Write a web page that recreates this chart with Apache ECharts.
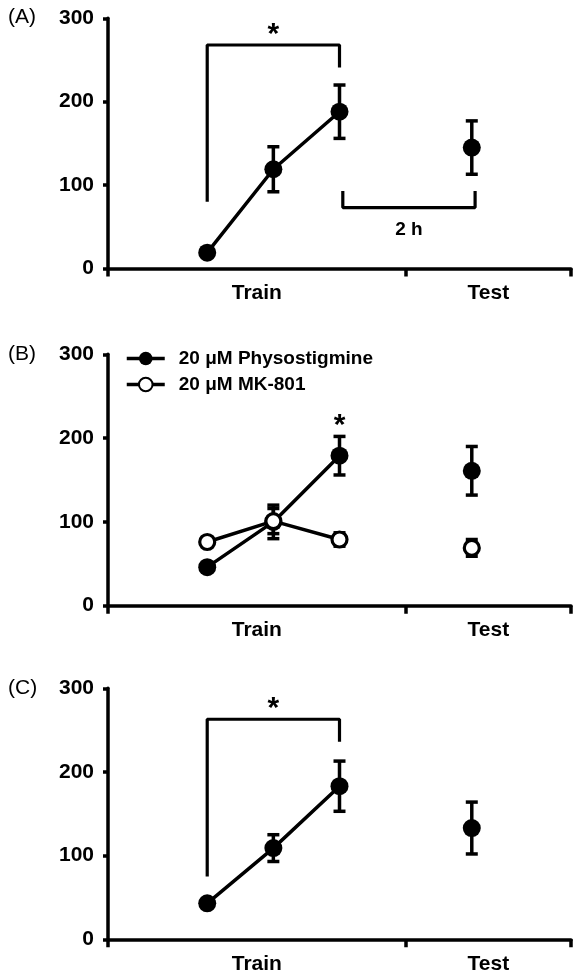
<!DOCTYPE html>
<html>
<head>
<meta charset="utf-8">
<script src="https://cdn.jsdelivr.net/npm/echarts@6/dist/echarts.min.js"></script>
<style>html,body{margin:0;padding:0;background:#fff;}#c{width:573px;height:975px;}</style>
</head>
<body>
<div id="c"></div>
<script>
// ---- data ----
const trainX = [1.5, 2.5, 3.5];
const testX = 5.5;
const categoryLabels = ['Train', 'Test'];
const yTicks = [0, 100, 200, 300];

const aTrain = [19, 119, 188];
const aTrainErr = [0, 27, 32];
const aTest = 145;
const aTestErr = 32;

const bPhysoTrain = [46, 100, 179];
const bPhysoTrainErr = [0, 20, 23];
const bPhysoTest = 161;
const bPhysoTestErr = 29;

const bMkTrain = [76, 101, 79];
const bMkTrainErr = [0, 15, 8];
const bMkTest = 69;
const bMkTestErr = 10;

const cTrain = [43, 109, 183];
const cTrainErr = [0, 16, 30];
const cTest = 133;
const cTestErr = 31;

const seriesNames = ['20 μM Physostigmine', '20 μM MK-801'];

// annotations (data coordinates)
const bracketA = [[1.5, 80], [1.5, 268], [3.5, 268], [3.5, 241]];
const bracket2h = [[3.55, 93], [3.55, 73], [5.55, 73], [5.55, 93]];
const bracketC = [[1.5, 75], [1.5, 263], [3.5, 263], [3.5, 236]];
const textsA = [[2.5, 289, '*'], [4.55, 47, '2 h']];
const textsB = [[3.5, 223, '*']];
const textsC = [[2.5, 284, '*']];

// ---- chart ----
const FONT = '"Liberation Sans", Arial, sans-serif';
const chart = echarts.init(document.getElementById('c'), null, {renderer: 'canvas'});

const grids = [
  {left: 108, width: 463, top: 18.3, height: 250.2},
  {left: 108, width: 463, top: 354.3, height: 251.4},
  {left: 108, width: 463, top: 688.3, height: 251}
];

function xAxisDef(i) {
  return {
    type: 'value', gridIndex: i, min: 0, max: 7,
    axisLine: {show: true, lineStyle: {color: '#000', width: 3.5}},
    axisTick: {show: true, customValues: [0, 4.5, 7], length: 8, lineStyle: {color: '#000', width: 3.5}},
    axisLabel: {
      show: true, customValues: [2.25, 5.75],
      formatter: v => (v < 4.5 ? categoryLabels[0] : categoryLabels[1]),
      fontFamily: FONT, fontSize: 21, fontWeight: 'bold', color: '#000', margin: 14
    },
    splitLine: {show: false}
  };
}
function yAxisDef(i) {
  return {
    type: 'value', gridIndex: i, min: yTicks[0], max: yTicks[yTicks.length - 1], interval: 100,
    axisLine: {show: true, lineStyle: {color: '#000', width: 3.5}},
    axisTick: {show: true, length: 5, lineStyle: {color: '#000', width: 3.5}},
    axisLabel: {fontFamily: FONT, fontSize: 21, fontWeight: 'bold', color: '#000', margin: 14},
    splitLine: {show: false}
  };
}

function errRender(params, api) {
  const x = api.value(0), lo = api.value(1), hi = api.value(2);
  const pLo = api.coord([x, lo]);
  const pHi = api.coord([x, hi]);
  const w = 6;
  const st = {stroke: '#000', lineWidth: 3.5};
  return {type: 'group', children: [
    {type: 'line', shape: {x1: pLo[0], y1: pLo[1], x2: pHi[0], y2: pHi[1]}, style: st},
    {type: 'line', shape: {x1: pHi[0] - w, y1: pHi[1], x2: pHi[0] + w, y2: pHi[1]}, style: st},
    {type: 'line', shape: {x1: pLo[0] - w, y1: pLo[1], x2: pLo[0] + w, y2: pLo[1]}, style: st}
  ]};
}
function errSeries(i, vals, errs, tv, te) {
  const data = [];
  trainX.forEach((x, j) => { if (errs[j] > 0) data.push([x, vals[j] - errs[j], vals[j] + errs[j]]); });
  data.push([testX, tv - te, tv + te]);
  return {type: 'custom', xAxisIndex: i, yAxisIndex: i, renderItem: errRender, data: data,
    encode: {x: 0, y: [1, 2]}, z: 2, silent: true};
}
function filledLine(i, name, vals, tv) {
  return [
    {type: 'line', name: name, xAxisIndex: i, yAxisIndex: i, data: trainX.map((x, j) => [x, vals[j]]),
      symbol: 'circle', symbolSize: 18, lineStyle: {color: '#000', width: 3.5},
      itemStyle: {color: '#000'}, z: 3},
    {type: 'line', name: name, xAxisIndex: i, yAxisIndex: i, data: [[testX, tv]],
      symbol: 'circle', symbolSize: 18, lineStyle: {color: '#000', width: 3.5},
      itemStyle: {color: '#000'}, z: 3}
  ];
}
function openLine(i, name, vals, tv) {
  const st = {color: '#fff', borderColor: '#000', borderWidth: 3.2};
  return [
    {type: 'line', name: name, xAxisIndex: i, yAxisIndex: i, data: trainX.map((x, j) => [x, vals[j]]),
      symbol: 'circle', symbolSize: 15, lineStyle: {color: '#000', width: 3.5},
      itemStyle: st, z: 4},
    {type: 'line', name: name, xAxisIndex: i, yAxisIndex: i, data: [[testX, tv]],
      symbol: 'circle', symbolSize: 15, lineStyle: {color: '#000', width: 3.5},
      itemStyle: st, z: 4}
  ];
}
function bracketSeries(i, pts) {
  return {type: 'line', xAxisIndex: i, yAxisIndex: i, data: pts, symbol: 'none',
    lineStyle: {color: '#000', width: 3.2}, z: 1, silent: true};
}
function textSeries(i, items) {
  return {type: 'custom', xAxisIndex: i, yAxisIndex: i, silent: true, z: 5,
    data: items.map(t => [t[0], t[1]]),
    renderItem: function (params, api) {
      const p = api.coord([api.value(0), api.value(1)]);
      const t = items[params.dataIndex][2];
      const isStar = t === '*';
      return {type: 'text', x: p[0], y: p[1] + (isStar ? 7 : 0),
        style: {text: t, fill: '#000', align: 'center', verticalAlign: 'middle',
          font: 'bold ' + (isStar ? 30 : 19) + 'px ' + FONT}};
    }};
}

const series = [].concat(
  errSeries(0, aTrain, aTrainErr, aTest, aTestErr),
  filledLine(0, 'A', aTrain, aTest),
  bracketSeries(0, bracketA),
  bracketSeries(0, bracket2h),
  textSeries(0, textsA),

  errSeries(1, bPhysoTrain, bPhysoTrainErr, bPhysoTest, bPhysoTestErr),
  errSeries(1, bMkTrain, bMkTrainErr, bMkTest, bMkTestErr),
  filledLine(1, seriesNames[0], bPhysoTrain, bPhysoTest),
  openLine(1, seriesNames[1], bMkTrain, bMkTest),
  textSeries(1, textsB),

  errSeries(2, cTrain, cTrainErr, cTest, cTestErr),
  filledLine(2, 'C', cTrain, cTest),
  bracketSeries(2, bracketC),
  textSeries(2, textsC)
);

const option = {
  animation: false,
  backgroundColor: '#fff',
  grid: grids,
  xAxis: [xAxisDef(0), xAxisDef(1), xAxisDef(2)],
  yAxis: [yAxisDef(0), yAxisDef(1), yAxisDef(2)],
  legend: {
    data: seriesNames, orient: 'vertical', left: 125, top: 349, padding: 0,
    itemWidth: 38, itemHeight: 17, itemGap: 7,
    lineStyle: {width: 3.5, color: '#000'},
    textStyle: {fontFamily: FONT, fontSize: 19, fontWeight: 'bold', color: '#000', padding: [0, 0, 0, 9]},
    selectedMode: false
  },
  graphic: [
    {type: 'text', left: 8, top: 7, style: {text: '(A)', font: '21px ' + FONT, fill: '#000'}},
    {type: 'text', left: 8, top: 344, style: {text: '(B)', font: '21px ' + FONT, fill: '#000'}},
    {type: 'text', left: 8, top: 678, style: {text: '(C)', font: '21px ' + FONT, fill: '#000'}}
  ],
  series: series
};
chart.setOption(option);
</script>
</body>
</html>
